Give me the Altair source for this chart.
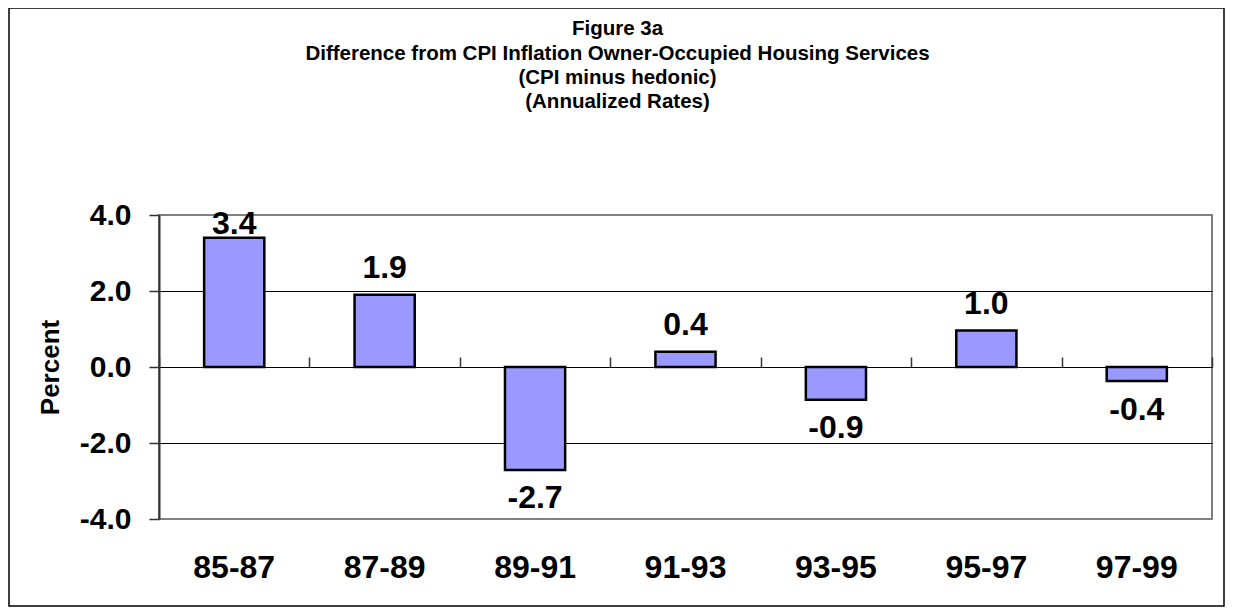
import altair as alt
import pandas as pd

periods = ["85-87", "87-89", "89-91", "91-93", "93-95", "95-97", "97-99"]
values = [3.40, 1.90, -2.71, 0.40, -0.86, 0.96, -0.37]

title_lines = [
    "Figure 3a",
    "Difference from CPI Inflation Owner-Occupied Housing Services",
    "(CPI minus hedonic)",
    "(Annualized Rates)",
]

df = pd.DataFrame({"period": periods, "value": values})

FONT = "Liberation Sans"
W, H = 1053, 304
FIX_MINUS = "replace(format(datum.value, '.1f'), '\u2212', '-')"

xscale = alt.Scale(domain=periods, paddingInner=0, paddingOuter=0)
yscale = alt.Scale(domain=[-4, 4], nice=False, zero=False)

base = alt.Chart(df)

frame = alt.Chart(alt.Data(values=[{"a": 1}])).mark_rect(
    filled=False, stroke="black", strokeWidth=1.5
).encode(
    x=alt.value(-150), x2=alt.value(1065), y=alt.value(-207), y2=alt.value(391)
)

bars = base.mark_bar(
    width=alt.RelativeBandSize(0.4), color="#9999FF", stroke="black", strokeWidth=2.5
).encode(
    x=alt.X("period:N", scale=xscale, sort=periods, title=None,
            axis=alt.Axis(orient="bottom", ticks=False, tickSize=0, domain=False,
                          labelAngle=0, labelFontSize=32, labelFont=FONT,
                          labelFontWeight="bold", labelColor="black",
                          labelBaseline="middle", labelPadding=48, grid=False)),
    y=alt.Y("value:Q", scale=yscale, title="Percent",
            axis=alt.Axis(values=[-4, -2, 0, 2, 4], labelExpr=FIX_MINUS,
                          labelFontSize=30, labelFont=FONT, labelFontWeight="bold",
                          labelColor="black", labelPadding=18, tickSize=10,
                          tickColor="#333333", tickWidth=1.5,
                          domainColor="#333333", domainWidth=2,
                          grid=True,
                          gridColor=alt.condition("abs(datum.value) == 4",
                                                  alt.value("#808080"),
                                                  alt.value("black")),
                          gridWidth=1,
                          titleFontSize=26, titleFont=FONT, titleFontWeight="bold",
                          titleColor="black", titleX=-109, titleY=152,
                          titleAngle=270, titleBaseline="middle", titleAlign="center")),
)

labels = base.transform_calculate(
    lab="datum.value >= 0 ? min(datum.value + 0.7, 3.76) : datum.value - 0.75",
    txt=FIX_MINUS,
).mark_text(
    fontSize=32, font=FONT, fontWeight="bold", color="black", baseline="middle"
).encode(
    x=alt.X("period:N", scale=xscale, sort=periods, title=None,
            axis=alt.Axis(orient="top", offset=-152, labels=False, ticks=True,
                          tickSize=10, tickColor="#333333", tickWidth=1.5,
                          tickBand="extent", domain=True, domainColor="black",
                          domainWidth=1, grid=False, title=None)),
    y=alt.Y("lab:Q", scale=yscale),
    text=alt.Text("txt:N"),
)

chart = alt.layer(frame, bars, labels).resolve_axis(x="independent").properties(
    width=W, height=H,
    autosize=alt.AutoSizeParams(type="none"),
    padding={"left": 151, "top": 207, "right": 13, "bottom": 88},
    title=alt.TitleParams(
        text=title_lines, fontSize=20.5, font=FONT, fontWeight="bold", color="black",
        anchor="middle", frame="group", dx=-68, offset=-105.5, lineHeight=24.3,
    ),
).configure_view(stroke="#808080", strokeWidth=2)

chart.save("out.html", embed_options={"renderer": "svg", "actions": False})
